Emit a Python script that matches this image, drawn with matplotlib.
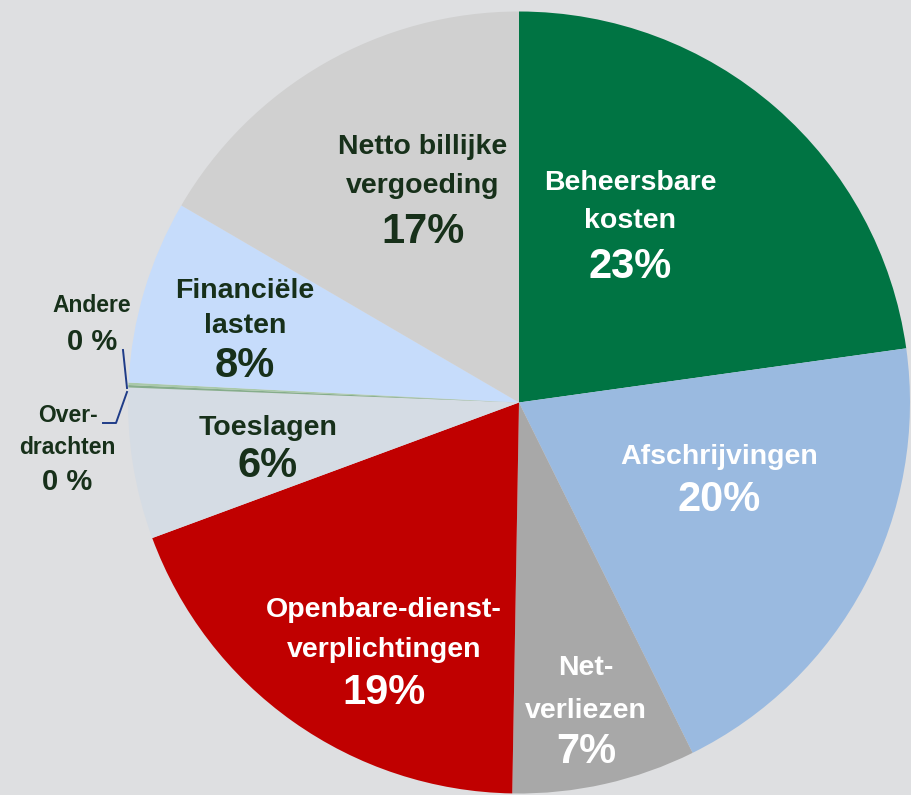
#!/usr/bin/env python

import matplotlib
matplotlib.use("Agg")
import matplotlib.pyplot as plt

# slice order: clockwise from 12 o'clock
names  = ["Beheersbare kosten", "Afschrijvingen", "Net-verliezen",
          "Openbare-dienstverplichtingen", "Toeslagen", "Overdrachten",
          "Andere", "Financiële lasten", "Netto billijke vergoeding"]
shares = [22.8, 19.9, 7.6, 19.1, 6.25, 0.1, 0.1, 7.6, 16.6]
pct    = ["23%", "20%", "7%", "19%", "6%", "0 %", "0 %", "8%", "17%"]
colors = ["#007443", "#9abae0", "#a8a8a8", "#c00000", "#d5dce4",
          "#86ad8c", "#a9c9a9", "#c6dcfb", "#d0d0d0"]

bg   = "#dedfe1"
dark = "#17301a"
H    = 795

plt.rcParams["font.family"] = ["Liberation Sans", "DejaVu Sans"]

fig = plt.figure(figsize=(9.12, 7.95), dpi=100, facecolor=bg)
ax  = fig.add_axes([0, 0, 1, 1])
ax.set_facecolor(bg)

ax.pie(shares, colors=colors, startangle=90, counterclock=False,
       center=(519, H - 402.5), radius=391, frame=True,
       wedgeprops=dict(linewidth=0))
ax.set_xlim(0, 912)
ax.set_ylim(0, H)
ax.set_aspect("equal")
ax.axis("off")


def lbl(x, y, s, size, color):
    ax.text(x, H - y, s, ha="center", va="center", fontsize=size,
            fontweight="bold", color=color)


# in-slice labels: (x, [(y, line)], y of percent, colour)
spots = {
    0: (630, [(183, "Beheersbare"), (221, "kosten")], 267, "white"),
    1: (719, [(457, "Afschrijvingen")], 500, "white"),
    2: (586, [(668, "Net-"), (711, "verliezen")], 752, "white"),
    3: (384, [(610, "Openbare-dienst-"), (650, "verplichtingen")], 693, "white"),
    4: (268, [(428, "Toeslagen")], 466, dark),
    7: (245, [(291, "Financiële"), (326, "lasten")], 366, dark),
    8: (423, [(147, "Netto billijke"), (186, "vergoeding")], 232, dark),
}
for i, (x, rows, yp, c) in spots.items():
    for y, s in rows:
        lbl(x, y, s, 20.5, c)
    lbl(x, yp, pct[i], 30, c)

# outside labels for the two tiny slices
lbl(92, 306, "Andere", 16.5, dark)
lbl(92, 342, pct[6], 21, dark)
lbl(68, 416, "Over-", 16.5, dark)
lbl(67, 448, "drachten", 16.5, dark)
lbl(67, 482, pct[5], 21, dark)

line_c = "#1f3c88"
ax.plot([123, 127], [H - 350, H - 388], color=line_c, lw=1.4)
ax.plot([127, 116, 103], [H - 392, H - 423, H - 423], color=line_c, lw=1.4)

fig.savefig("out.png", dpi=100, facecolor=bg)
